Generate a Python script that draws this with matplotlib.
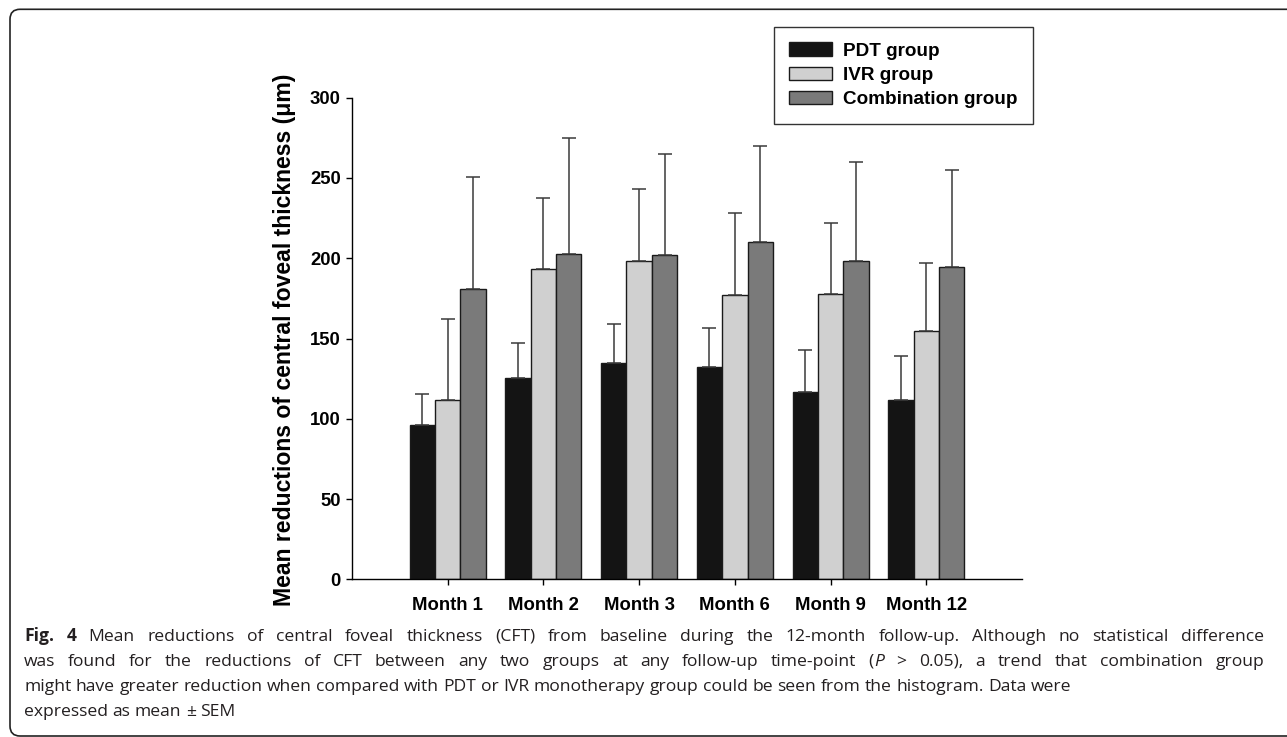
import matplotlib
matplotlib.use("Agg")
import matplotlib.pyplot as plt
import numpy as np
from matplotlib.path import Path
from matplotlib.patches import PathPatch

plt.rcParams['font.family'] = ['Liberation Sans', 'DejaVu Sans']

# datos
months = ["Month 1", "Month 2", "Month 3", "Month 6", "Month 9", "Month 12"]
pdt = [96, 125.4, 134.6, 132.3, 116.8, 111.9]
pdt_sem = [19.5, 21.6, 24.5, 24.1, 26.1, 27.0]
ivr = [111.7, 193.1, 198.5, 177.1, 177.6, 154.5]
ivr_sem = [50.5, 44.7, 44.9, 50.8, 44.6, 42.6]
comb = [180.7, 202.7, 202.1, 210.2, 198.3, 194.4]
comb_sem = [70.1, 72.2, 62.9, 59.8, 61.6, 60.8]
groups = ["PDT group", "IVR group", "Combination group"]
colores = ["#141414", "#d0d0d0", "#7a7a7a"]

W, H = 1287, 737
fig = plt.figure(figsize=(W / 100, H / 100), dpi=100)

# marco de la figura: linea superior y lateral izquierda con esquinas redondeadas (pixeles)
r = 10
xl, yt, yb = 10, 9.3, 736
pts = [(W + 20, yt), (xl + r, yt), (xl, yt), (xl, yt + r), (xl, yb - r), (xl, yb), (xl + r, yb), (W + 20, yb)]
codes = [Path.MOVETO, Path.LINETO, Path.CURVE3, Path.CURVE3, Path.LINETO, Path.CURVE3, Path.CURVE3, Path.LINETO]
pts_in = [(px / 100, (H - py) / 100) for px, py in pts]
marco = PathPatch(Path(pts_in, codes), transform=fig.dpi_scale_trans,
                  facecolor='none', edgecolor='#222222', linewidth=1.2)
fig.patches.append(marco)

ax = fig.add_axes([352 / W, 1 - 579.3 / H, 670 / W, (579.3 - 97.7) / H])

x = np.arange(len(months))
w = 0.265
series = [pdt, ivr, comb]
sems = [pdt_sem, ivr_sem, comb_sem]
for i in range(3):
    pos = x + (i - 1) * w
    ax.bar(pos, series[i], w, color=colores[i], edgecolor='#1a1a1a',
           linewidth=1.0, label=groups[i], zorder=2)
    ax.errorbar(pos, series[i], yerr=[np.zeros(len(months)), sems[i]],
                fmt='none', ecolor='#3a3a3a', elinewidth=1.1,
                capsize=5, capthick=1.1, zorder=3)

ax.set_xlim(-1, 6)
ax.set_ylim(0, 300)
ax.set_xticks(x)
ax.set_xticklabels(months)
ax.set_yticks(np.arange(0, 301, 50))
ax.spines['top'].set_visible(False)
ax.spines['right'].set_visible(False)
ax.spines['left'].set_linewidth(1.0)
ax.spines['bottom'].set_linewidth(1.0)
ax.tick_params(axis='y', direction='out', length=4.5, width=1, labelsize=13.3, pad=3.6)
ax.tick_params(axis='x', direction='out', length=4.5, width=1, labelsize=13.3, pad=8)
for lab in ax.get_xticklabels() + ax.get_yticklabels():
    lab.set_fontweight('bold')

fig.text(284 / W, 1 - 339.5 / H, "Mean reductions of central foveal thickness (μm)",
         rotation=90, ha='center', va='center', fontsize=16.6, fontweight='bold')

leg = ax.legend(loc='upper left', bbox_to_anchor=(774 / W, 1 - 27 / H),
                bbox_transform=fig.transFigure, frameon=True, fancybox=False,
                edgecolor='black', prop={'weight': 'bold', 'size': 13.6},
                handlelength=2.27, handleheight=0.69, handletextpad=0.58,
                labelspacing=0.38, borderpad=0.82, borderaxespad=0)
leg.get_frame().set_linewidth(1.0)

# pie de figura, justificado
cap_font = ['Open Sans', 'DejaVu Sans']
cap_size = 12.6
normal = {}
negrita = {'fontweight': 'bold'}
cursiva = {'fontstyle': 'italic'}


def palabras(txt):
    return [[(p, normal)] for p in txt.split()]


lineas = [
    [[("Fig.", negrita)], [("4", negrita)]] + palabras(
        "Mean reductions of central foveal thickness (CFT) from baseline during "
        "the 12-month follow-up. Although no statistical difference"),
    palabras("was found for the reductions of CFT between any two groups at any "
             "follow-up time-point") + [[("(", normal), ("P", cursiva)], [(">", normal)],
                                        [("0.05),", normal)]] + palabras("a trend that combination group"),
    palabras("might have greater reduction when compared with PDT or IVR monotherapy "
             "group could be seen from the histogram. Data were"),
    palabras("expressed as mean ± SEM"),
]
justificar = [True, True, False, False]
base_y = [640.7, 665.7, 690.7, 715.7]
x_izq, x_der = 24, 1264

renderer = fig.canvas.get_renderer()


def ancho(txt, estilo):
    t = fig.text(0, 0, txt, fontsize=cap_size, family=cap_font, **estilo)
    b = t.get_window_extent(renderer).width
    t.remove()
    return b


espacio = ancho("a a", normal) - ancho("aa", normal)

for linea, just, ybase in zip(lineas, justificar, base_y):
    anchos = [[ancho(s, e) for s, e in pal] for pal in linea]
    total = sum(sum(a) for a in anchos)
    if just:
        hueco = (x_der - x_izq - total) / (len(linea) - 1)
    else:
        hueco = espacio
    xp = x_izq
    for pal, an in zip(linea, anchos):
        for (s, e), a in zip(pal, an):
            fig.text(xp / W, 1 - ybase / H, s, fontsize=cap_size, family=cap_font,
                     va='baseline', ha='left', color='#231f20', **e)
            xp += a
        xp += hueco

fig.savefig("out.png", dpi=100)
